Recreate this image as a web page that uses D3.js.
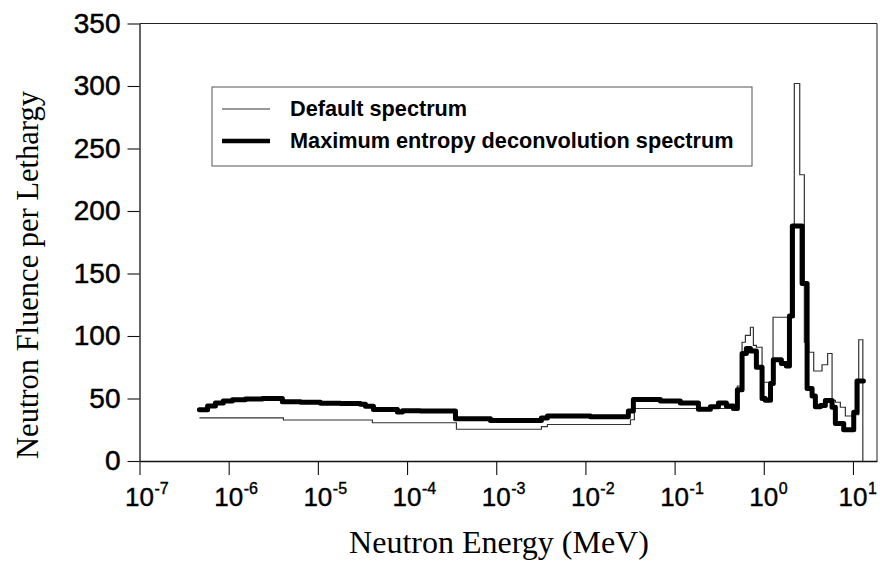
<!DOCTYPE html>
<html>
<head>
<meta charset="utf-8">
<script src="https://cdn.jsdelivr.net/npm/d3@7"></script>
<style>
  html, body { margin: 0; padding: 0; background: #fff; }
  svg { display: block; }
</style>
</head>
<body>
<svg id="chart" width="880" height="561"></svg>
<script>
// Neutron fluence per lethargy, group-wise (step) spectra.
// Each series: bin edges in MeV and one value per bin.
const defaultEdges = [4.7e-7, 4.11e-6, 4.09e-5, 3.58e-4, 3.21e-3, 3.75e-3, 0.032, 0.0354,
  0.506, 0.571, 0.622, 0.708, 0.765, 0.826, 0.957, 1.27, 2.20, 2.53, 2.85, 3.19, 3.63,
  4.50, 5.2, 5.83, 6.35, 7.22, 8.22, 9.77, 11.6, 12.9];
const defaultValues = [34.5, 32.8, 30.6, 25.4, 27.5, 29.2, 33, 42,
  60, 95, 100.5, 107, 92.5, 91, 63, 115, 302, 229, 95, 87,
  72, 77, 86, 48.5, 47, 43, 36, 37, 97];

const memEdges = [4.7e-7, 5.8e-7, 7.1e-7, 8.7e-7, 1.1e-6, 1.54e-6, 2.39e-6, 4.0e-6, 6.4e-6,
  1.07e-5, 1.79e-5, 3.0e-5, 3.42e-5, 4.2e-5, 7.8e-5, 8.88e-5, 1.41e-4, 3.49e-4, 8.61e-4,
  3.21e-3, 3.75e-3, 0.0114, 0.0303, 0.0345, 0.0693, 0.116, 0.185, 0.252, 0.31, 0.381,
  0.456, 0.506, 0.571, 0.638, 0.708, 0.826, 0.957, 1.04, 1.19, 1.28, 1.575, 1.79, 1.94,
  2.09, 2.69, 3.06, 3.48, 3.79, 4.31, 4.9, 5.83, 6.35, 7.87, 10.2, 11.1, 13.1];
const memValues = [41, 44, 46.5, 48, 49, 49.6, 50, 47.5,
  47, 46.2, 46, 45.4, 43.9, 41.2, 39.3, 40.3, 40, 33.8,
  32.5, 34.5, 36, 35.5, 40, 49.2, 48, 46.5, 41.5, 43.5, 46.5,
  44, 42, 57, 86, 90, 88, 75, 50, 48.6, 62, 81, 78, 76,
  116, 188, 142, 58, 52, 43.5, 44.5, 48.5, 43, 30, 25, 39, 64];

const yTicks = [0, 50, 100, 150, 200, 250, 300, 350];
const xTickExponents = [-7, -6, -5, -4, -3, -2, -1, 0, 1];
const legendLabels = ["Default spectrum", "Maximum entropy deconvolution spectrum"];

const svg = d3.select("#chart");
const plot = { left: 139.5, right: 877, top: 23.5, bottom: 461 };

const x = d3.scaleLog().domain([1e-7, 18.6]).range([plot.left, plot.right]);
const y = d3.scaleLinear().domain([0, 350]).range([plot.bottom, plot.top]);

// frame (top and right sides)
svg.append("path")
  .attr("d", `M${plot.left},${plot.top}H${plot.right}V${plot.bottom}`)
  .attr("fill", "none").attr("stroke", "#222").attr("stroke-width", 1);

// y axis
const yAxis = svg.append("g")
  .attr("transform", `translate(${plot.left},0)`)
  .call(d3.axisLeft(y).tickValues(yTicks).tickSize(12).tickPadding(7).tickSizeOuter(0));
yAxis.select(".domain").attr("stroke", "#111").attr("stroke-width", 1.3);
yAxis.selectAll(".tick line").attr("stroke", "#111").attr("stroke-width", 1.1);
yAxis.selectAll(".tick text")
  .attr("font-family", "'Liberation Sans', Arial, sans-serif")
  .attr("font-size", 28).attr("fill", "#000")
  .attr("stroke", "#000").attr("stroke-width", 0.5);

// x axis with power-of-ten labels
const xAxis = svg.append("g")
  .attr("transform", `translate(0,${plot.bottom})`)
  .call(d3.axisBottom(x).tickValues(xTickExponents.map(e => Math.pow(10, e)))
    .tickSize(14).tickSizeOuter(0).tickFormat(""));
xAxis.select(".domain").attr("stroke", "#111").attr("stroke-width", 1.3);
xAxis.selectAll(".tick line").attr("stroke", "#111").attr("stroke-width", 1.1);

const xLabels = svg.append("g")
  .attr("font-family", "'Liberation Sans', Arial, sans-serif")
  .attr("fill", "#000").attr("stroke", "#000").attr("stroke-width", 0.4);
xTickExponents.forEach(e => {
  const g = xLabels.append("g").attr("transform", `translate(${x(Math.pow(10, e))},506)`);
  const base = g.append("text").attr("text-anchor", "middle").attr("font-size", 26).text("10");
  const w = base.node().getComputedTextLength();
  g.append("text").attr("x", w / 2 + 0.5).attr("y", -12)
    .attr("font-size", 16).text(e < 0 ? "-" + Math.abs(e) : String(e));
});

// axis titles
svg.append("text")
  .attr("x", 499).attr("y", 553)
  .attr("text-anchor", "middle")
  .attr("font-family", "'Liberation Serif', 'Times New Roman', serif")
  .attr("font-size", 32).attr("fill", "#000")
  .text("Neutron Energy (MeV)");

svg.append("text")
  .attr("transform", "translate(38,275) rotate(-90)")
  .attr("text-anchor", "middle")
  .attr("font-family", "'Liberation Serif', 'Times New Roman', serif")
  .attr("font-size", 30.5).attr("fill", "#000")
  .text("Neutron Fluence per Lethargy");

// step spectra
function stepPoints(edges, values) {
  const pts = values.map((v, i) => [edges[i], v]);
  pts.push([edges[edges.length - 1], values[values.length - 1]]);
  return pts;
}
const line = d3.line().x(d => x(d[0])).y(d => y(d[1])).curve(d3.curveStepAfter);

const defaultPts = stepPoints(defaultEdges, defaultValues);
defaultPts.push([defaultEdges[defaultEdges.length - 1], 0]);
svg.append("path")
  .attr("d", line(defaultPts))
  .attr("fill", "none").attr("stroke", "#333").attr("stroke-width", 1.2);

svg.append("path")
  .attr("d", line(stepPoints(memEdges, memValues)))
  .attr("fill", "none").attr("stroke", "#000").attr("stroke-width", 5)
  .attr("stroke-linejoin", "round").attr("stroke-linecap", "round");

// legend
const legend = svg.append("g");
legend.append("rect")
  .attr("x", 212).attr("y", 87).attr("width", 540).attr("height", 79)
  .attr("fill", "#fff").attr("stroke", "#555").attr("stroke-width", 1);
const legendStyles = [{ w: 1.2, c: "#333" }, { w: 4.5, c: "#000" }];
legendLabels.forEach((label, i) => {
  const yy = 109 + i * 32;
  legend.append("line").attr("x1", 222).attr("x2", 270).attr("y1", yy).attr("y2", yy)
    .attr("stroke", legendStyles[i].c).attr("stroke-width", legendStyles[i].w);
  legend.append("text").attr("x", 290).attr("y", yy + 7)
    .attr("font-family", "'Liberation Sans', Arial, sans-serif")
    .attr("font-weight", "bold").attr("font-size", 21.7).attr("fill", "#000")
    .text(label);
});
</script>
</body>
</html>
